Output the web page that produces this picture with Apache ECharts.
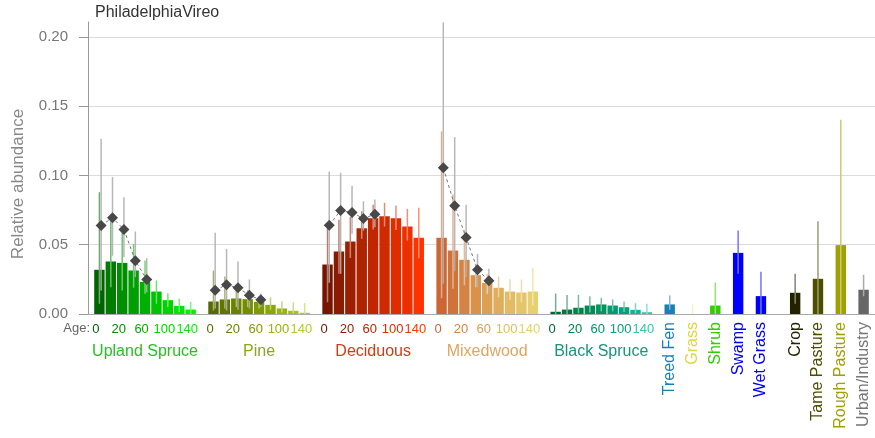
<!DOCTYPE html>
<html><head><meta charset="utf-8">
<script src="https://cdn.jsdelivr.net/npm/echarts@6/dist/echarts.min.js"></script>
<style>html,body{margin:0;padding:0;background:#fff}#c{width:875px;height:438px}</style>
</head><body><div id="c"></div>
<script>
// ---------------- data ----------------
const chartTitle = 'PhiladelphiaVireo';
const yAxisName = 'Relative abundance';
const yTicks = [0, 0.05, 0.10, 0.15, 0.20];
const ageLabel = 'Age:';
const ageTicks = ['0', '20', '60', '100', '140'];
const groupNames = ['Upland Spruce', 'Pine', 'Deciduous', 'Mixedwood', 'Black Spruce'];

const uplandSpruce     = [0.0319, 0.0379, 0.0369, 0.0314, 0.0232, 0.0162, 0.0100, 0.0059, 0.0032];
const uplandSpruceLo   = [0.0074, 0.0193, 0.0170, 0.0190, 0.0146, 0.0074, 0.0050, 0.0015, 0.0000];
const uplandSpruceHi   = [0.0879, 0.0680, 0.0615, 0.0506, 0.0386, 0.0242, 0.0150, 0.0110, 0.0088];
const uplandSprucePts  = [0.0639, 0.0694, 0.0610, 0.0384, 0.0249];
const uplandSprucePtLo = [0.0170, 0.0420, 0.0410, 0.0266, 0.0157];
const uplandSprucePtHi = [0.1264, 0.0987, 0.0843, 0.0595, 0.0403];

const pine     = [0.0090, 0.0105, 0.0112, 0.0107, 0.0088, 0.0066, 0.0040, 0.0023, 0.0009];
const pineLo   = [0.0025, 0.0040, 0.0050, 0.0050, 0.0040, 0.0030, 0.0010, 0.0005, 0.0000];
const pineHi   = [0.0314, 0.0270, 0.0206, 0.0170, 0.0126, 0.0120, 0.0092, 0.0085, 0.0078];
const pinePts  = [0.0172, 0.0211, 0.0189, 0.0136, 0.0102];
const pinePtLo = [0.0040, 0.0025, 0.0030, 0.0040, 0.0050];
const pinePtHi = [0.0586, 0.0470, 0.0379, 0.0249, 0.0146];

const deciduous     = [0.0357, 0.0451, 0.0523, 0.0619, 0.0691, 0.0706, 0.0691, 0.0631, 0.0550];
const deciduousLo   = [0.0085, 0.0290, 0.0405, 0.0542, 0.0610, 0.0631, 0.0607, 0.0530, 0.0403];
const deciduousHi   = [0.0639, 0.0680, 0.0700, 0.0742, 0.0788, 0.0802, 0.0783, 0.0759, 0.0766];
const deciduousPts  = [0.0641, 0.0747, 0.0732, 0.0689, 0.0720];
const deciduousPtLo = [0.0225, 0.0290, 0.0579, 0.0602, 0.0626];
const deciduousPtHi = [0.1028, 0.1019, 0.0925, 0.0814, 0.0826];

const mixedwood     = [0.0550, 0.0458, 0.0391, 0.0280, 0.0225, 0.0189, 0.0162, 0.0155, 0.0162];
const mixedwoodLo   = [0.0114, 0.0182, 0.0206, 0.0193, 0.0145, 0.0121, 0.0102, 0.0085, 0.0061];
const mixedwoodHi   = [0.1317, 0.0862, 0.0607, 0.0362, 0.0290, 0.0270, 0.0251, 0.0249, 0.0333];
const mixedwoodPts  = [0.1055, 0.0781, 0.0552, 0.0319, 0.0240];
const mixedwoodPtLo = [0.0218, 0.0309, 0.0266, 0.0193, 0.0157];
const mixedwoodPtHi = [0.2105, 0.1276, 0.0788, 0.0434, 0.0326];

const blackSpruce   = [0.0016, 0.0032, 0.0045, 0.0061, 0.0069, 0.0061, 0.0049, 0.0030, 0.0013];
const blackSpruceLo = [0.0000, 0.0000, 0.0005, 0.0010, 0.0020, 0.0020, 0.0015, 0.0005, 0.0000];
const blackSpruceHi = [0.0148, 0.0138, 0.0138, 0.0128, 0.0117, 0.0105, 0.0090, 0.0078, 0.0074];

const landCovers   = ['Treed Fen', 'Grass', 'Shrub', 'Swamp', 'Wet Grass', 'Crop', 'Tame Pasture', 'Rough Pasture', 'Urban/Industry'];
const landCoverVal = [0.0069, 0.0000, 0.0061, 0.0441, 0.0129, 0.0153, 0.0254, 0.0497, 0.0175];
const landCoverLo  = [0.0030, 0.0000, 0.0000, 0.0290, 0.0000, 0.0074, 0.0000, 0.0000, 0.0128];
const landCoverHi  = [0.0134, 0.0069, 0.0227, 0.0602, 0.0304, 0.0290, 0.0670, 0.1401, 0.0283];

// ---------------- layout & style ----------------
const groupStart = [0, 10, 20, 30, 40];          // slot index of first age class
const ageTickIdx = [0, 2, 4, 6, 8];
const landSlot = [50, 52, 54, 56, 58, 61, 63, 65, 67];
const ptOffset = 0.15;

const groupShades = [
  ['#006400', '#007d00', '#008f00', '#009e00', '#00b000', '#00c200', '#00d400', '#00e600', '#00f200'],
  ['#556b00', '#5f7600', '#698200', '#738d00', '#7f9900', '#8ba608', '#97b410', '#a4c218', '#b0ce22'],
  ['#761400', '#8a1a00', '#9c2000', '#ae2300', '#c02600', '#d02a00', '#e02d00', '#ee3000', '#ff3300'],
  ['#cc6632', '#d0733a', '#d48344', '#d8924c', '#dca054', '#dfae5c', '#e2bb64', '#e4c56a', '#e6d070'],
  ['#006838', '#007840', '#008448', '#008c55', '#009463', '#009c70', '#00a47c', '#10b494', '#30c8aa']
];
const groupLabelColors = ['#22c422', '#8aa818', '#d43a14', '#e2a462', '#16967a'];
const landColors = ['#1a7fb2', '#ece68c', '#33cc00', '#0000ff', '#0000ff', '#222200', '#4d4d00', '#a0a000', '#666666'];
const landLabelColors = ['#1a7fb2', '#e0d44a', '#33cc00', '#0000ff', '#0000ff', '#222200', '#4d4d00', '#a0a000', '#777777'];

function tint(hex, f) {
  const n = parseInt(hex.slice(1), 16);
  const r = (n >> 16) & 255, g = (n >> 8) & 255, b = n & 255;
  const m = c => Math.round(c + (255 - c) * f);
  return 'rgb(' + m(r) + ',' + m(g) + ',' + m(b) + ')';
}

const groups = [
  { vals: uplandSpruce, lo: uplandSpruceLo, hi: uplandSpruceHi, pts: uplandSprucePts, plo: uplandSprucePtLo, phi: uplandSprucePtHi },
  { vals: pine, lo: pineLo, hi: pineHi, pts: pinePts, plo: pinePtLo, phi: pinePtHi },
  { vals: deciduous, lo: deciduousLo, hi: deciduousHi, pts: deciduousPts, plo: deciduousPtLo, phi: deciduousPtHi },
  { vals: mixedwood, lo: mixedwoodLo, hi: mixedwoodHi, pts: mixedwoodPts, plo: mixedwoodPtLo, phi: mixedwoodPtHi },
  { vals: blackSpruce, lo: blackSpruceLo, hi: blackSpruceHi, pts: null }
];

const barData = [], errData = [], errColors = [], ptErrData = [], lineSeries = [], labelData = [];
groups.forEach((g, gi) => {
  g.vals.forEach((v, i) => {
    const x = groupStart[gi] + i;
    barData.push({ value: [x, v], itemStyle: { color: groupShades[gi][i] } });
    errData.push([x, g.lo[i], g.hi[i]]);
    errColors.push(tint(groupShades[gi][i], 0.45));
  });
  if (g.pts) {
    const d = g.pts.map((v, i) => [groupStart[gi] + i + ptOffset, v]);
    g.pts.forEach((v, i) => ptErrData.push([groupStart[gi] + i + ptOffset, g.plo[i], g.phi[i]]));
    lineSeries.push({
      type: 'line', data: d, symbol: 'diamond', symbolSize: 11, z: 5,
      itemStyle: { color: '#484848' },
      lineStyle: { type: [3, 3], color: '#777', width: 1 }, animation: false
    });
  }
  ageTickIdx.forEach((k, j) => labelData.push({ value: [groupStart[gi] + k - 0.3, 0], text: ageTicks[j], color: groupShades[gi][k], kind: 'age' }));
  labelData.push({ value: [groupStart[gi] + 4, 0], text: groupNames[gi], color: groupLabelColors[gi], kind: 'group' });
});
landCovers.forEach((name, i) => {
  const x = landSlot[i];
  barData.push({ value: [x, landCoverVal[i]], itemStyle: { color: landColors[i] } });
  errData.push([x, landCoverLo[i], landCoverHi[i]]);
  errColors.push(tint(landColors[i], 0.45));
  labelData.push({ value: [x, 0], text: name, color: landLabelColors[i], kind: 'rot' });
});

function errRender(colors, width) {
  return function (params, api) {
    const x = api.value(0);
    const a = api.coord([x, api.value(1)]);
    const b = api.coord([x, api.value(2)]);
    return { type: 'line', shape: { x1: a[0], y1: a[1], x2: b[0], y2: b[1] },
      style: { stroke: typeof colors === 'string' ? colors : colors[params.dataIndex], lineWidth: width } };
  };
}

const FONT = '"Liberation Sans", Arial, sans-serif';

const chart = echarts.init(document.getElementById('c'), null, { renderer: 'canvas' });
chart.setOption({
  animation: false,
  backgroundColor: '#fff',
  grid: { left: 88, right: 0, top: 22, bottom: 124 },
  xAxis: {
    type: 'value', min: -1, max: 68,
    axisLine: { show: true, onZero: false, lineStyle: { color: '#aaa', width: 1 } },
    axisTick: { show: false }, axisLabel: { show: false }, splitLine: { show: false }
  },
  yAxis: {
    type: 'value', min: 0, max: 0.2107, interval: 0.05,
    axisLine: { show: true, onZero: false, lineStyle: { color: '#999' } },
    axisTick: { show: true, length: 9, lineStyle: { color: '#999' }, customValues: yTicks },
    axisLabel: { customValues: yTicks, formatter: v => v.toFixed(2), color: '#777', fontSize: 15, fontFamily: FONT, margin: 20 },
    splitLine: { show: true, lineStyle: { color: '#dcdcdc', width: 1 } }
  },
  graphic: [
    { type: 'text', left: 95, top: 5, style: { text: chartTitle, fill: '#333', font: '16px ' + FONT } },
    { type: 'text', x: 18, y: 184, rotation: Math.PI / 2,
      style: { text: yAxisName, fill: '#888', font: '17px ' + FONT, align: 'center', verticalAlign: 'middle' } },
    { type: 'text', right: 875 - 90, top: 322, style: { text: ageLabel, fill: '#666', font: '13px ' + FONT } }
  ],
  series: [
    { type: 'bar', data: barData, barWidth: 10.4, z: 2 },
    { type: 'custom', data: errData, encode: { x: 0, y: [1, 2] }, renderItem: errRender(errColors, 1.5), z: 3 },
    { type: 'custom', data: ptErrData, encode: { x: 0, y: [1, 2] }, renderItem: errRender('rgba(175,175,175,0.9)', 1.5), z: 4 },
    ...lineSeries,
    {
      type: 'custom', data: labelData, clip: false, silent: true, z: 6,
      encode: { x: 0, y: 1 },
      renderItem: function (params, api) {
        const item = labelData[params.dataIndex];
        const p = api.coord([api.value(0), 0]);
        if (item.kind === 'age') {
          return { type: 'text', x: p[0], y: p[1] + 15,
            style: { text: item.text, fill: item.color, font: '13px ' + FONT, align: 'center', verticalAlign: 'middle' } };
        }
        if (item.kind === 'group') {
          return { type: 'text', x: p[0], y: p[1] + 38,
            style: { text: item.text, fill: item.color, font: '16px ' + FONT, align: 'center', verticalAlign: 'middle' } };
        }
        return { type: 'text', x: p[0], y: p[1] + 8, rotation: Math.PI / 2,
          style: { text: item.text, fill: item.color, font: '16px ' + FONT, align: 'right', verticalAlign: 'middle' } };
      }
    }
  ]
});
</script>
</body></html>
